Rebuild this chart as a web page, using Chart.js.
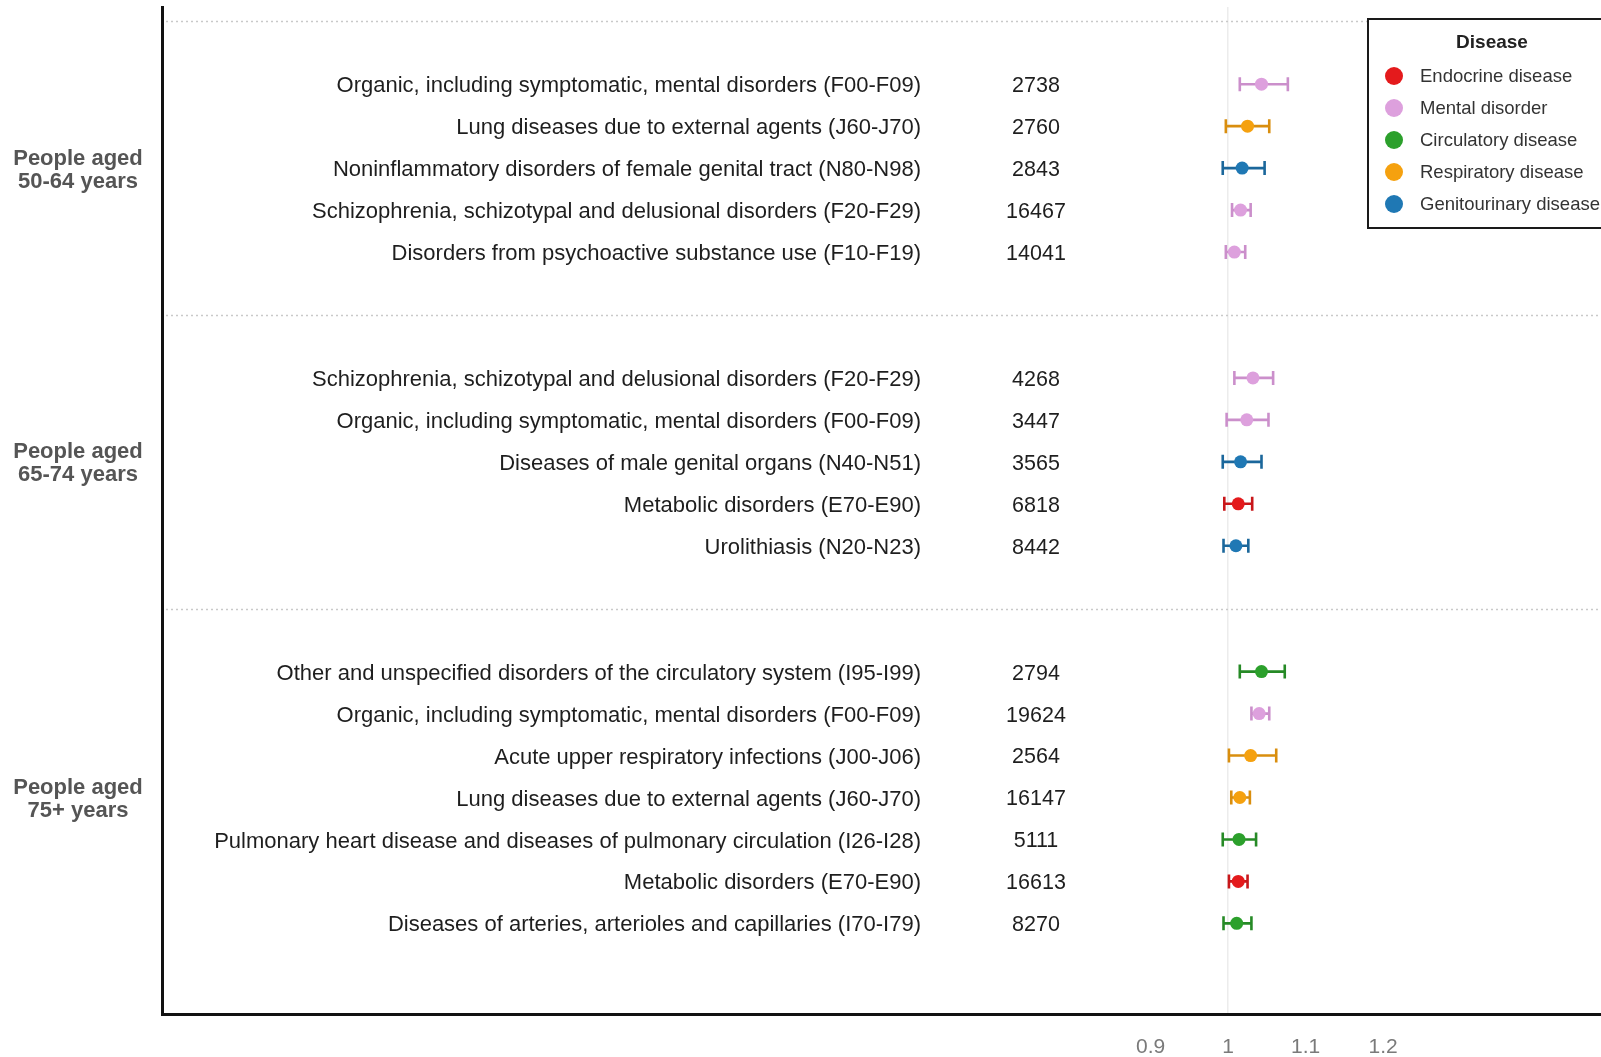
<!DOCTYPE html>
<html>
<head>
<meta charset="utf-8">
<title>Disease associations by age group</title>
<script src="https://cdn.jsdelivr.net/npm/chart.js@4/dist/chart.umd.min.js"></script>
<style>
  html, body { margin: 0; padding: 0; background: #fff; }
  #wrap { width: 1601px; height: 1057px; position: relative; }
</style>
</head>
<body>
<div id="wrap"><canvas id="chart"></canvas></div>
<script>
// ---- data ----
const ageGroups = [
  ['People aged', '50-64 years'],
  ['People aged', '65-74 years'],
  ['People aged', '75+ years']
];
const rowGroup = [0, 0, 0, 0, 0, 1, 1, 1, 1, 1, 2, 2, 2, 2, 2, 2, 2];
const conditions = [
  'Organic, including symptomatic, mental disorders (F00-F09)',
  'Lung diseases due to external agents (J60-J70)',
  'Noninflammatory disorders of female genital tract (N80-N98)',
  'Schizophrenia, schizotypal and delusional disorders (F20-F29)',
  'Disorders from psychoactive substance use (F10-F19)',
  'Schizophrenia, schizotypal and delusional disorders (F20-F29)',
  'Organic, including symptomatic, mental disorders (F00-F09)',
  'Diseases of male genital organs (N40-N51)',
  'Metabolic disorders (E70-E90)',
  'Urolithiasis (N20-N23)',
  'Other and unspecified disorders of the circulatory system (I95-I99)',
  'Organic, including symptomatic, mental disorders (F00-F09)',
  'Acute upper respiratory infections (J00-J06)',
  'Lung diseases due to external agents (J60-J70)',
  'Pulmonary heart disease and diseases of pulmonary circulation (I26-I28)',
  'Metabolic disorders (E70-E90)',
  'Diseases of arteries, arterioles and capillaries (I70-I79)'
];
const counts = [2738, 2760, 2843, 16467, 14041, 4268, 3447, 3565, 6818, 8442, 2794, 19624, 2564, 16147, 5111, 16613, 8270];
// index into diseaseTypes
const rowType = [1, 3, 4, 1, 1, 1, 1, 4, 0, 4, 2, 1, 3, 3, 2, 0, 2];
const estimates = [1.043, 1.025, 1.018, 1.016, 1.008, 1.032, 1.024, 1.016, 1.013, 1.010, 1.043, 1.040, 1.029, 1.015, 1.014, 1.013, 1.011];
const lowerCI  = [1.015, 0.997, 0.993, 1.005, 0.997, 1.008, 0.998, 0.993, 0.995, 0.994, 1.015, 1.030, 1.001, 1.004, 0.993, 1.001, 0.994];
const upperCI  = [1.077, 1.053, 1.047, 1.029, 1.022, 1.058, 1.052, 1.043, 1.031, 1.026, 1.073, 1.053, 1.062, 1.028, 1.036, 1.025, 1.030];
const diseaseTypes = ['Endocrine disease', 'Mental disorder', 'Circulatory disease', 'Respiratory disease', 'Genitourinary disease'];
const typeColors = ['#E41A1C', '#DDA0DD', '#2CA02C', '#F5A10F', '#1F78B4'];
const barColors  = ['#C8171A', '#CB8FCB', '#268A26', '#D98E0E', '#1B679B'];
const xTickValues = [0.9, 1, 1.1, 1.2];
const legendTitle = 'Disease';

// ---- layout helpers ----
const FONT = '"Liberation Sans", Arial, Helvetica, sans-serif';
// each age group is separated from the next by two empty rows
const rowPos = rowGroup.map((g, i) => i + 2 * g);

const datasets = diseaseTypes.map((name, t) => ({
  label: name,
  data: rowPos.map((y, i) => ({ x: estimates[i], y: y, idx: i })).filter(p => rowType[p.idx] === t),
  backgroundColor: typeColors[t],
  borderColor: typeColors[t],
  borderWidth: 0,
  pointRadius: 6.5,
  pointHoverRadius: 6.5
}));

const whiteBackground = {
  id: 'whiteBackground',
  beforeDraw(chart) {
    const ctx = chart.ctx;
    ctx.save();
    ctx.fillStyle = '#ffffff';
    ctx.fillRect(0, 0, chart.width, chart.height);
    ctx.restore();
  }
};

// dotted separators between age groups, row texts and confidence intervals
const rowDecor = {
  id: 'rowDecor',
  beforeDatasetsDraw(chart) {
    const { ctx, chartArea, scales } = chart;
    const ys = scales.y;
    ctx.save();
    // separators
    const seps = [rowPos[0] - 1.5];
    for (let i = 1; i < rowPos.length; i++) {
      if (rowGroup[i] !== rowGroup[i - 1]) seps.push((rowPos[i - 1] + rowPos[i]) / 2);
    }
    ctx.strokeStyle = '#c9c9c9';
    ctx.lineWidth = 1.5;
    ctx.setLineDash([2, 3]);
    seps.forEach(v => {
      const py = Math.round(ys.getPixelForValue(v)) + 0.5;
      ctx.beginPath();
      ctx.moveTo(chartArea.left + 4, py);
      ctx.lineTo(chartArea.right, py);
      ctx.stroke();
    });
    ctx.setLineDash([]);

    // condition names and counts
    ctx.fillStyle = '#1e1e1e';
    ctx.textBaseline = 'middle';
    rowPos.forEach((v, i) => {
      const py = ys.getPixelForValue(v) + 2;
      ctx.font = '22px ' + FONT;
      ctx.textAlign = 'right';
      ctx.fillText(conditions[i], 921, py);
      ctx.font = '21.5px ' + FONT;
      ctx.textAlign = 'center';
      ctx.fillText(String(counts[i]), 1036, py);
    });

    // age group labels left of the axis
    ctx.fillStyle = '#555555';
    ctx.font = 'bold 22px ' + FONT;
    ctx.textAlign = 'center';
    ageGroups.forEach((lines, g) => {
      const rows = rowPos.filter((_, i) => rowGroup[i] === g);
      const mid = ys.getPixelForValue((rows[0] + rows[rows.length - 1]) / 2) + 2;
      const lh = 23;
      lines.forEach((t, k) => {
        ctx.fillText(t, 78, mid + (k - (lines.length - 1) / 2) * lh);
      });
    });

    // confidence intervals
    const xs = scales.x;
    ctx.lineWidth = 2.6;
    ctx.lineCap = 'butt';
    rowPos.forEach((v, i) => {
      const py = ys.getPixelForValue(v);
      const x0 = xs.getPixelForValue(lowerCI[i]);
      const x1 = xs.getPixelForValue(upperCI[i]);
      ctx.strokeStyle = barColors[rowType[i]];
      ctx.beginPath();
      ctx.moveTo(x0, py); ctx.lineTo(x1, py);
      ctx.moveTo(x0, py - 7); ctx.lineTo(x0, py + 7);
      ctx.moveTo(x1, py - 7); ctx.lineTo(x1, py + 7);
      ctx.stroke();
    });
    ctx.restore();
  }
};

// legend box in the upper right corner
const diseaseLegend = {
  id: 'diseaseLegend',
  afterDraw(chart) {
    const ctx = chart.ctx;
    const bx = 1368, by = 19, bw = 260, bh = 209;
    ctx.save();
    ctx.fillStyle = '#ffffff';
    ctx.fillRect(bx, by, bw, bh);
    ctx.strokeStyle = '#1a1a1a';
    ctx.lineWidth = 2;
    ctx.strokeRect(bx, by, bw, bh);
    ctx.fillStyle = '#222222';
    ctx.font = 'bold 19px ' + FONT;
    ctx.textAlign = 'center';
    ctx.textBaseline = 'middle';
    ctx.fillText(legendTitle, 1492, 43);
    ctx.font = '18.5px ' + FONT;
    ctx.textAlign = 'left';
    diseaseTypes.forEach((name, t) => {
      const cy = 76 + t * 32;
      ctx.fillStyle = typeColors[t];
      ctx.beginPath();
      ctx.arc(1394, cy, 9, 0, Math.PI * 2);
      ctx.fill();
      ctx.fillStyle = '#333333';
      ctx.fillText(name, 1420, cy + 1);
    });
    ctx.restore();
  }
};

new Chart(document.getElementById('chart'), {
  type: 'scatter',
  data: { datasets },
  plugins: [whiteBackground, rowDecor, diseaseLegend],
  options: {
    responsive: true,
    maintainAspectRatio: false,
    animation: false,
    events: [],
    layout: { autoPadding: false, padding: { top: 7, left: 0, right: 0, bottom: 0 } },
    plugins: {
      legend: { display: false },
      tooltip: { enabled: false }
    },
    scales: {
      x: {
        type: 'linear',
        min: -0.3755,
        max: 1.481,
        afterFit(scale) { scale.height = 43; },
        afterBuildTicks(scale) { scale.ticks = xTickValues.map(v => ({ value: v })); },
        ticks: {
          autoSkip: false,
          maxRotation: 0,
          padding: 21,
          color: '#7a7a7a',
          font: { family: FONT, size: 21 },
          callback: v => String(v)
        },
        grid: {
          drawTicks: false,
          lineWidth: 1.5,
          color: ctx => (ctx.tick && ctx.tick.value === 1) ? '#ececec' : 'rgba(0,0,0,0)'
        },
        border: { display: true, color: '#111111', width: 3 }
      },
      y: {
        type: 'linear',
        reverse: true,
        min: -1.84,
        max: 22.16,
        afterFit(scale) { scale.width = 162; },
        ticks: { display: false },
        grid: { display: false, drawTicks: false },
        border: { display: true, color: '#111111', width: 3 }
      }
    }
  }
});
</script>
</body>
</html>
